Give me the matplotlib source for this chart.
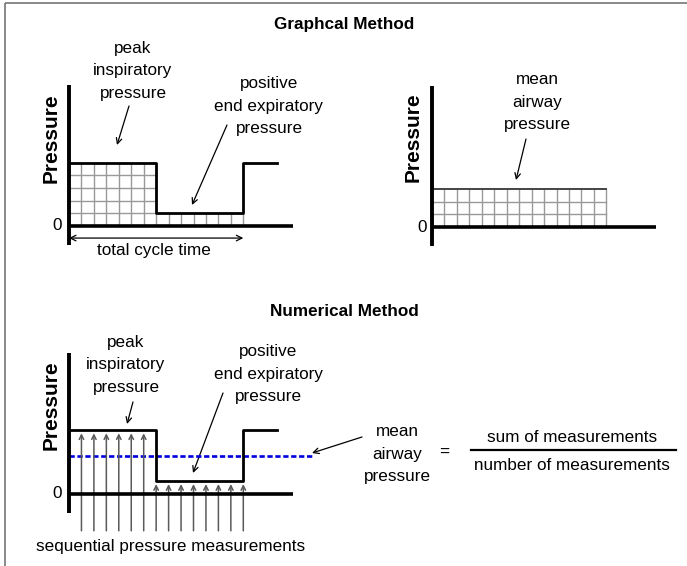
import numpy as np
import matplotlib
matplotlib.use("Agg")
import matplotlib.pyplot as plt
from matplotlib.patches import Rectangle

plt.rcParams['font.family'] = ['Liberation Sans', 'DejaVu Sans']

# --- pressure waveform (arbitrary units) ---
peak_pressure = 5
peep_pressure = 1
mean_pressure = 3
insp_time = 7
cycle_time = 14
next_peak_end = 16.7

wave_t = [0, insp_time, insp_time, cycle_time, cycle_time, next_peak_end]
wave_p = [peak_pressure, peak_pressure, peep_pressure, peep_pressure, peak_pressure, peak_pressure]

# sequential pressure measurements (numerical method)
meas_t = [1, 2, 3, 4, 5, 6, 7, 8, 9, 10, 11, 12, 13, 14]
meas_p = [5, 5, 5, 5, 5, 5, 1, 1, 1, 1, 1, 1, 1, 1]

W, H = 687, 566
UX, UY = 12.45, 12.7      # pixels per unit
XLIM, YLIM = (-4, 22), (-4, 12)
AX_X_END = 18
AX_Y = (-1.5, 11.1)

fig = plt.figure(figsize=(W / 100, H / 100), dpi=100)

# overlay in pixel coordinates for labels and frame
bg = fig.add_axes([0, 0, 1, 1])
bg.set_xlim(0, W)
bg.set_ylim(H, 0)
bg.axis('off')
bg.add_patch(Rectangle((5, 3), W + 20, H + 20, fill=False, edgecolor='#808080', lw=1.3))


def panel(ox, oy):
    left = ox + XLIM[0] * UX
    bottom = oy - YLIM[0] * UY
    ax = fig.add_axes([left / W, (H - bottom) / H,
                       (XLIM[1] - XLIM[0]) * UX / W, (YLIM[1] - YLIM[0]) * UY / H])
    ax.set_xlim(*XLIM)
    ax.set_ylim(*YLIM)
    ax.axis('off')
    ax.patch.set_alpha(0)
    ax.plot([0, AX_X_END], [0, 0], color='black', lw=2.6, solid_capstyle='butt', zorder=5)
    ax.plot([0, 0], AX_Y, color='black', lw=2.8, solid_capstyle='butt', zorder=5)
    return ax


def grid_block(ax, x0, x1, top, color='#999999'):
    for x in range(x0 + 1, x1 + 1):
        ax.plot([x, x], [0, top], color=color, lw=1.0, zorder=1)
    for y in range(1, top):
        ax.plot([x0, x1], [y, y], color=color, lw=1.0, zorder=1)


FS = 12.3
txt = dict(fontsize=FS, ha='center', va='center', linespacing=1.6)
bold = dict(fontsize=FS, fontweight='bold', ha='center', va='center')
ylab = dict(fontsize=15, fontweight='bold', rotation=90, ha='center', va='center')
arr = dict(arrowstyle='->', color='black', lw=0.9, shrinkA=0, shrinkB=0, mutation_scale=10)

# ---------------- Graphical method ----------------
bg.text(344, 25, 'Graphcal Method', **bold)

ax1 = panel(69, 226)
grid_block(ax1, 0, insp_time, peak_pressure)
grid_block(ax1, insp_time, cycle_time, peep_pressure)
ax1.plot(wave_t, wave_p, color='black', lw=2.0, zorder=4)
ax1.annotate('', xy=(cycle_time, -0.95), xytext=(0, -0.95),
             arrowprops=dict(arrowstyle='<->', color='black', lw=0.9, shrinkA=0, shrinkB=0, mutation_scale=10))
bg.text(154, 250, 'total cycle time', **txt)
bg.text(57, 226, '0', **txt)
bg.text(51, 138, 'Pressure', **ylab)
bg.text(133, 71, 'peak\ninspiratory\npressure', **txt)
bg.annotate('', xy=(117, 145), xytext=(129, 106), arrowprops=arr)
bg.text(269, 106, 'positive\nend expiratory\npressure', **txt)
bg.annotate('', xy=(192, 205), xytext=(227, 125), arrowprops=arr)

ax2 = panel(432, 227)
grid_block(ax2, 0, cycle_time, mean_pressure)
ax2.plot([0, cycle_time], [mean_pressure, mean_pressure], color='#444444', lw=1.4, zorder=3)
bg.text(422, 227, '0', **txt)
bg.text(413, 137, 'Pressure', **ylab)
bg.text(537, 102, 'mean\nairway\npressure', **txt)
bg.annotate('', xy=(516, 180), xytext=(526, 139), arrowprops=arr)

# ---------------- Numerical method ----------------
bg.text(344, 312, 'Numerical Method', **bold)

ax3 = panel(69, 494)
ax3.plot(wave_t, wave_p, color='black', lw=2.0, zorder=4)
ax3.plot([0, 19.5], [mean_pressure, mean_pressure], color='#0000dd', lw=1.9,
         linestyle=(0, (2, 1)), zorder=3)
for t, p in zip(meas_t, meas_p):
    ax3.annotate('', xy=(t, p), xytext=(t, -2.9),
                 arrowprops=dict(arrowstyle='->', color='#5a5a5a', lw=1.1,
                                 shrinkA=0, shrinkB=2, mutation_scale=8))
bg.text(57, 494, '0', **txt)
bg.text(51, 405, 'Pressure', **ylab)
bg.text(126, 365, 'peak\ninspiratory\npressure', **txt)
bg.annotate('', xy=(127, 424), xytext=(133, 402), arrowprops=arr)
bg.text(268, 374, 'positive\nend expiratory\npressure', **txt)
bg.annotate('', xy=(193, 473), xytext=(223, 393), arrowprops=arr)
bg.text(171, 547, 'sequential pressure measurements', **txt)

bg.text(397, 454, 'mean\nairway\npressure', **txt)
bg.annotate('', xy=(312, 453), xytext=(362, 437), arrowprops=arr)
bg.text(444, 452, '=', **txt)
bg.plot([471, 676], [450, 450], color='black', lw=1.6)
bg.text(572, 437, 'sum of measurements', **txt)
bg.text(572, 466, 'number of measurements', **txt)

fig.savefig('out.png', dpi=100)
